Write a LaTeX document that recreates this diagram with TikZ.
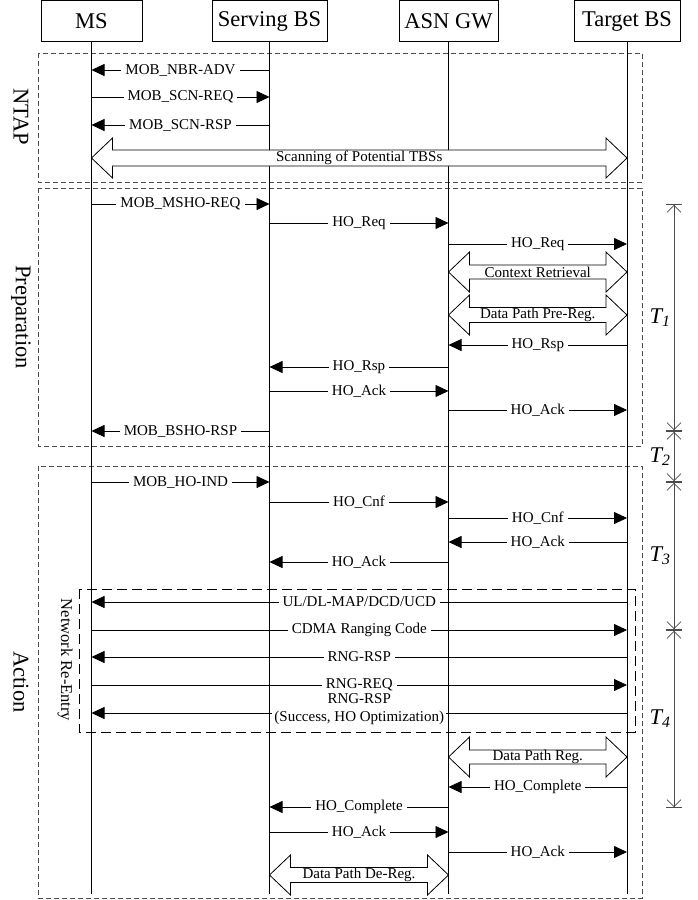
\documentclass[tikz,border=0pt]{standalone}
\usepackage{fontspec}
\setmainfont{Liberation Serif}
\usetikzlibrary{arrows.meta,calc}
\tikzstyle{entity} = [rectangle, draw, line width=0.8pt, minimum height=41pt,
    inner sep=0pt, font=\fontsize{22.5}{26}\selectfont]
\tikzstyle{lifeline} = [draw, line width=0.8pt]
\tikzstyle{line} = [draw, line width=0.8pt, -{Triangle[length=13pt,width=12pt]}]
\tikzstyle{lbl} = [fill=white, inner sep=4pt, align=center,
    font=\fontsize{15}{18}\selectfont]
\tikzstyle{bigarrow} = [draw, fill=white, line width=0.8pt]
\tikzstyle{phase} = [draw=black!70, line width=0.9pt, dash pattern=on 5pt off 3pt]
\tikzstyle{reentry} = [draw, line width=0.8pt, dash pattern=on 10pt off 5pt]
\tikzstyle{phasename} = [rotate=-90, font=\fontsize{22.5}{26}\selectfont]
\tikzstyle{tspan} = [draw=black!70, line width=0.8pt,
    {Bar[width=16pt]Straight Barb[length=7pt,width=14pt]}-{Straight Barb[length=7pt,width=14pt]Bar[width=16pt]}]
\tikzstyle{tlabel} = [left, inner sep=3pt, font=\fontsize{22.5}{26}\selectfont\itshape]

% message between two lifelines at height #4
\newcommand{\msg}[5][]{%
  \coordinate (#2-#4) at (#2 |- 0,#4);
  \coordinate (#3-#4) at (#3 |- 0,#4);
  \path [line] (#2-#4) -- node[lbl,#1] {#5} (#3-#4);
}
% hollow double arrow, #4 = half height of the body
\newcommand{\dblarrow}[5]{%
  \coordinate (#1-#3) at (#1 |- 0,#3);
  \coordinate (#2-#3) at (#2 |- 0,#3);
  \path [bigarrow] (#1-#3) -- ++(21,-20) -- ++(0,20-#4)
    -- ($(#2-#3)+(-21,-#4)$) -- ++(0,#4-20) -- (#2-#3) -- ++(-21,20)
    -- ++(0,#4-20) -- ($(#1-#3)+(21,#4)$) -- ++(0,20-#4) -- cycle;
  \node [lbl, fill=none, inner sep=0pt] at ($(#1-#3)!0.5!(#2-#3)$) {#5};
}

\begin{document}
\begin{tikzpicture}[x=1pt, y=-1pt]
\useasboundingbox (0,0) rectangle (697,900);

% phases
\draw [phase] (38,53) rectangle (642,182);
\draw [phase] (38,188) rectangle (642,446);
\draw [phase] (38,466) rectangle (642,898);
\draw [reentry] (79,589) rectangle (635,732);
\node [phasename] at (21,117) {NTAP};
\node [phasename] at (21,317) {Preparation};
\node [phasename] at (21,682) {Action};
\node [phasename, font=\fontsize{16.5}{19}\selectfont] at (65,660) {Network Re-Entry};

% entities
\node [entity, minimum width=101pt] (ms) at (91.5,21) {MS};
\node [entity, minimum width=115pt] (sbs) at (269.5,21) {Serving BS};
\node [entity, minimum width=99pt] (gw) at (448.5,21) {ASN GW};
\node [entity, minimum width=106pt] (tbs) at (627,21) {Target BS};
\coordinate (bottom) at (0,894);
\foreach \e in {ms,sbs,gw,tbs}
  \path [lifeline] (\e.south) -- (\e |- bottom);

% NTAP
\msg{sbs}{ms}{70}{MOB\_NBR-ADV}
\msg{ms}{sbs}{97}{MOB\_SCN-REQ}
\msg{sbs}{ms}{125}{MOB\_SCN-RSP}
\dblarrow{ms}{tbs}{158}{8}{Scanning of Potential TBSs}

% Preparation
\msg{ms}{sbs}{204}{MOB\_MSHO-REQ}
\msg{sbs}{gw}{223}{HO\_Req}
\msg{gw}{tbs}{244}{HO\_Req}
\dblarrow{gw}{tbs}{272}{7}{Context Retrieval}
\dblarrow{gw}{tbs}{315}{7.5}{Data Path Pre-Reg.}
\msg{tbs}{gw}{345}{HO\_Rsp}
\msg{gw}{sbs}{367}{HO\_Rsp}
\msg{sbs}{gw}{391}{HO\_Ack}
\msg{gw}{tbs}{410}{HO\_Ack}
\msg{sbs}{ms}{431}{MOB\_BSHO-RSP}

% Action
\msg{ms}{sbs}{482}{MOB\_HO-IND}
\msg{sbs}{gw}{502}{HO\_Cnf}
\msg{gw}{tbs}{518}{HO\_Cnf}
\msg{tbs}{gw}{542}{HO\_Ack}
\msg{gw}{sbs}{562}{HO\_Ack}
\msg{tbs}{ms}{602}{UL/DL-MAP/DCD/UCD}
\msg{ms}{tbs}{630}{CDMA Ranging Code}
\msg{tbs}{ms}{657}{RNG-RSP}
\msg{ms}{tbs}{685}{RNG-REQ}
\msg[yshift=3.5pt, inner sep=2pt]{tbs}{ms}{713}{RNG-RSP\\(Success, HO Optimization)}
\dblarrow{gw}{tbs}{757}{7}{Data Path Reg.}
\msg{tbs}{gw}{787}{HO\_Complete}
\msg{gw}{sbs}{807}{HO\_Complete}
\msg{sbs}{gw}{832}{HO\_Ack}
\msg{gw}{tbs}{852}{HO\_Ack}
\dblarrow{sbs}{gw}{875}{7.5}{Data Path De-Reg.}

% timing
\coordinate (t0) at (674,204);
\coordinate (t1) at (674,431);
\coordinate (t2) at (674,482);
\coordinate (t3) at (674,630);
\coordinate (t4) at (674,808);
\path [tspan] (t0) -- node[tlabel] {T\textsubscript{1}} (t1);
\path [tspan] (t1) -- node[tlabel] {T\textsubscript{2}} (t2);
\path [tspan] (t2) -- node[tlabel] {T\textsubscript{3}} (t3);
\path [tspan] (t3) -- node[tlabel] {T\textsubscript{4}} (t4);
\end{tikzpicture}
\end{document}
